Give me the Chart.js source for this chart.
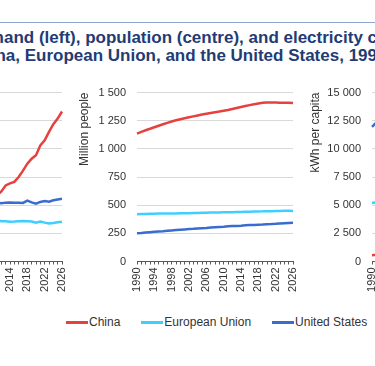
<!DOCTYPE html>
<html>
<head>
<meta charset="utf-8">
<script src="https://cdn.jsdelivr.net/npm/chart.js@4.4.1/dist/chart.umd.min.js"></script>
<style>
  html, body { margin: 0; padding: 0; background: #fff; }
  body { width: 375px; height: 366px; overflow: hidden; position: relative;
         font-family: "Liberation Sans", Arial, sans-serif; }
  .rule { position: absolute; left: 0; top: 22px; width: 375px; height: 1px; background: #8ea6cf; }
  .title { position: absolute; white-space: nowrap; font-weight: bold; font-size: 17px;
           line-height: 20px; color: #1f3c74; }
  .panel { position: absolute; top: 80px; height: 220px; }
  #legend { position: absolute; top: 313px; left: 66px; display: flex; align-items: center;
            white-space: nowrap; font-size: 12px; color: #333; line-height: 18px; }
  #legend .item { display: flex; align-items: center; margin-right: 21px; flex: none; }
  #legend .swatch { width: 22px; height: 3px; margin-right: 1px; }
</style>
</head>
<body>
<div class="rule"></div>
<div class="title" style="left:-117px; top:28px;">Electricity demand (left), population (centre), and electricity consumption per capita (right) in</div>
<div class="title" style="left:-32px; top:46px;">China, European Union, and the United States, 1990-2026</div>

<div class="panel" style="left:-158px; width:228px;"><canvas id="demand"></canvas></div>
<div class="panel" style="left:77px; width:224px;"><canvas id="population"></canvas></div>
<div class="panel" style="left:308px; width:228px;"><canvas id="perCapita"></canvas></div>
<div id="legend"></div>

<script>
const years = [
  "1990", "1991", "1992", "1993", "1994", "1995", "1996", "1997", "1998", "1999",
  "2000", "2001", "2002", "2003", "2004", "2005", "2006", "2007", "2008", "2009",
  "2010", "2011", "2012", "2013", "2014", "2015", "2016", "2017", "2018", "2019",
  "2020", "2021", "2022", "2023", "2024", "2025", "2026",
];
const seriesNames = ["China", "European Union", "United States"];
const seriesColors = ["#e5413e", "#3fcfff", "#3a6ccf"];

// Electricity demand, TWh
const demandChina = [
  620, 680, 760, 840, 930, 1010, 1080, 1130, 1160, 1230,
  1350, 1470, 1650, 1900, 2200, 2490, 2860, 3270, 3450, 3700,
  4200, 4700, 4970, 5400, 5550, 5650, 6000, 6450, 6950, 7300,
  7550, 8250, 8600, 9200, 9750, 10150, 10650,
];
const demandEU = [
  2450, 2480, 2470, 2480, 2520, 2580, 2650, 2670, 2720, 2760,
  2830, 2880, 2900, 2960, 3000, 3020, 3050, 3060, 3060, 2900,
  3010, 2950, 2860, 2850, 2830, 2840, 2860, 2870, 2860, 2840,
  2760, 2830, 2760, 2700, 2730, 2780, 2830,
];
const demandUS = [
  3050, 3120, 3130, 3250, 3330, 3440, 3550, 3600, 3730, 3800,
  3900, 3850, 3950, 3990, 4070, 4150, 4150, 4250, 4200, 4030,
  4200, 4180, 4130, 4180, 4190, 4170, 4170, 4160, 4320, 4200,
  4100, 4230, 4290, 4250, 4350, 4400, 4450,
];

// Population, million people
const popChina = [
  1135, 1151, 1165, 1178, 1192, 1205, 1218, 1230, 1242, 1253,
  1263, 1272, 1280, 1288, 1296, 1304, 1311, 1318, 1325, 1331,
  1338, 1345, 1354, 1363, 1372, 1380, 1388, 1396, 1403, 1408,
  1411, 1412, 1412, 1410, 1409, 1408, 1406,
];
const popEU = [
  420, 421, 422, 423, 424, 425, 425, 426, 426, 427,
  428, 428, 429, 430, 431, 432, 433, 434, 435, 436,
  437, 437, 438, 439, 440, 441, 442, 443, 444, 445,
  447, 447, 448, 449, 450, 450, 449,
];
const popUS = [
  250, 253, 257, 260, 263, 266, 269, 273, 276, 279,
  282, 285, 288, 290, 293, 296, 298, 301, 304, 307,
  309, 312, 314, 316, 318, 321, 323, 325, 327, 328,
  331, 332, 334, 337, 340, 342, 344,
];

// Electricity consumption per capita, kWh
const perCapChina = [
  550, 590, 650, 710, 780, 840, 890, 920, 930, 980,
  1070, 1160, 1290, 1480, 1700, 1910, 2180, 2480, 2600, 2780,
  3140, 3490, 3670, 3960, 4050, 4090, 4320, 4620, 4950, 5180,
  5350, 5840, 6090, 6520, 6920, 7210, 7570,
];
const perCapEU = [
  5200, 5260, 5280, 5300, 5380, 5480, 5600, 5650, 5740, 5820,
  5950, 6050, 6080, 6200, 6280, 6320, 6380, 6400, 6410, 6100,
  6300, 6170, 6140, 6050, 5900, 5950, 5980, 6010, 6000, 5930,
  5720, 5900, 5700, 5520, 5600, 5690, 5800,
];
const perCapUS = [
  11950, 12330, 12180, 12500, 12660, 12930, 13200, 13190, 13510, 13620,
  13830, 13510, 13720, 13760, 13890, 14020, 13930, 14120, 13820, 13130,
  13590, 13400, 13150, 13230, 13180, 12990, 12910, 12800, 13210, 12800,
  12390, 12740, 12840, 12610, 12790, 12870, 12940,
];

Chart.defaults.font.family = '"Liberation Sans", Arial, sans-serif';
Chart.defaults.color = "#333";

const spaced = (v) => String(v).replace(/\B(?=(\d{3})+(?!\d))/g, " ");

function makePanel(id, values, yTitle, yMax, yStep, yWidth) {
  new Chart(document.getElementById(id), {
    type: "line",
    data: {
      labels: years,
      datasets: values.map((data, i) => ({
        label: seriesNames[i],
        data,
        borderColor: seriesColors[i],
        backgroundColor: seriesColors[i],
        borderWidth: 2.5,
        pointRadius: 0,
        tension: 0,
      })),
    },
    options: {
      responsive: true,
      maintainAspectRatio: false,
      animation: false,
      layout: { padding: { top: 12.5, right: 8, bottom: 0, left: 0 } },
      plugins: { legend: { display: false }, tooltip: { enabled: false } },
      scales: {
        x: {
          grid: { drawOnChartArea: false, color: "#595959", tickLength: 3 },
          border: { display: true, color: "#595959" },
          ticks: {
            autoSkip: false,
            minRotation: 90,
            maxRotation: 90,
            padding: 3,
            font: { size: 11 },
            callback: (value, index) => (index % 4 === 0 ? years[index] : ""),
          },
          afterFit: (scale) => {
            scale.height = 38.5;
            scale.paddingLeft = 0;
            scale.paddingRight = 0;
          },
        },
        y: {
          min: 0,
          max: yMax,
          grid: { color: "#d9d9d9", drawTicks: false },
          border: { display: false },
          ticks: { stepSize: yStep, padding: 11, font: { size: 11 }, callback: spaced },
          title: {
            display: true,
            text: yTitle,
            align: "end",
            font: { size: 12 },
            padding: { top: 0, bottom: 5 },
          },
          afterFit: (scale) => {
            scale.width = yWidth;
            scale.paddingTop = 0;
            scale.paddingBottom = 0;
          },
        },
      },
    },
  });
}

makePanel("demand", [demandChina, demandEU, demandUS], "TWh", 12000, 2000, 64);
makePanel("population", [popChina, popEU, popUS], "Million people", 1500, 250, 60);
makePanel("perCapita", [perCapChina, perCapEU, perCapUS], "kWh per capita", 15000, 2500, 64);

const legend = document.getElementById("legend");
seriesNames.forEach((name, i) => {
  const item = document.createElement("div");
  item.className = "item";
  item.innerHTML = `<span class="swatch" style="background:${seriesColors[i]}"></span><span>${name}</span>`;
  legend.appendChild(item);
});
</script>
</body>
</html>
